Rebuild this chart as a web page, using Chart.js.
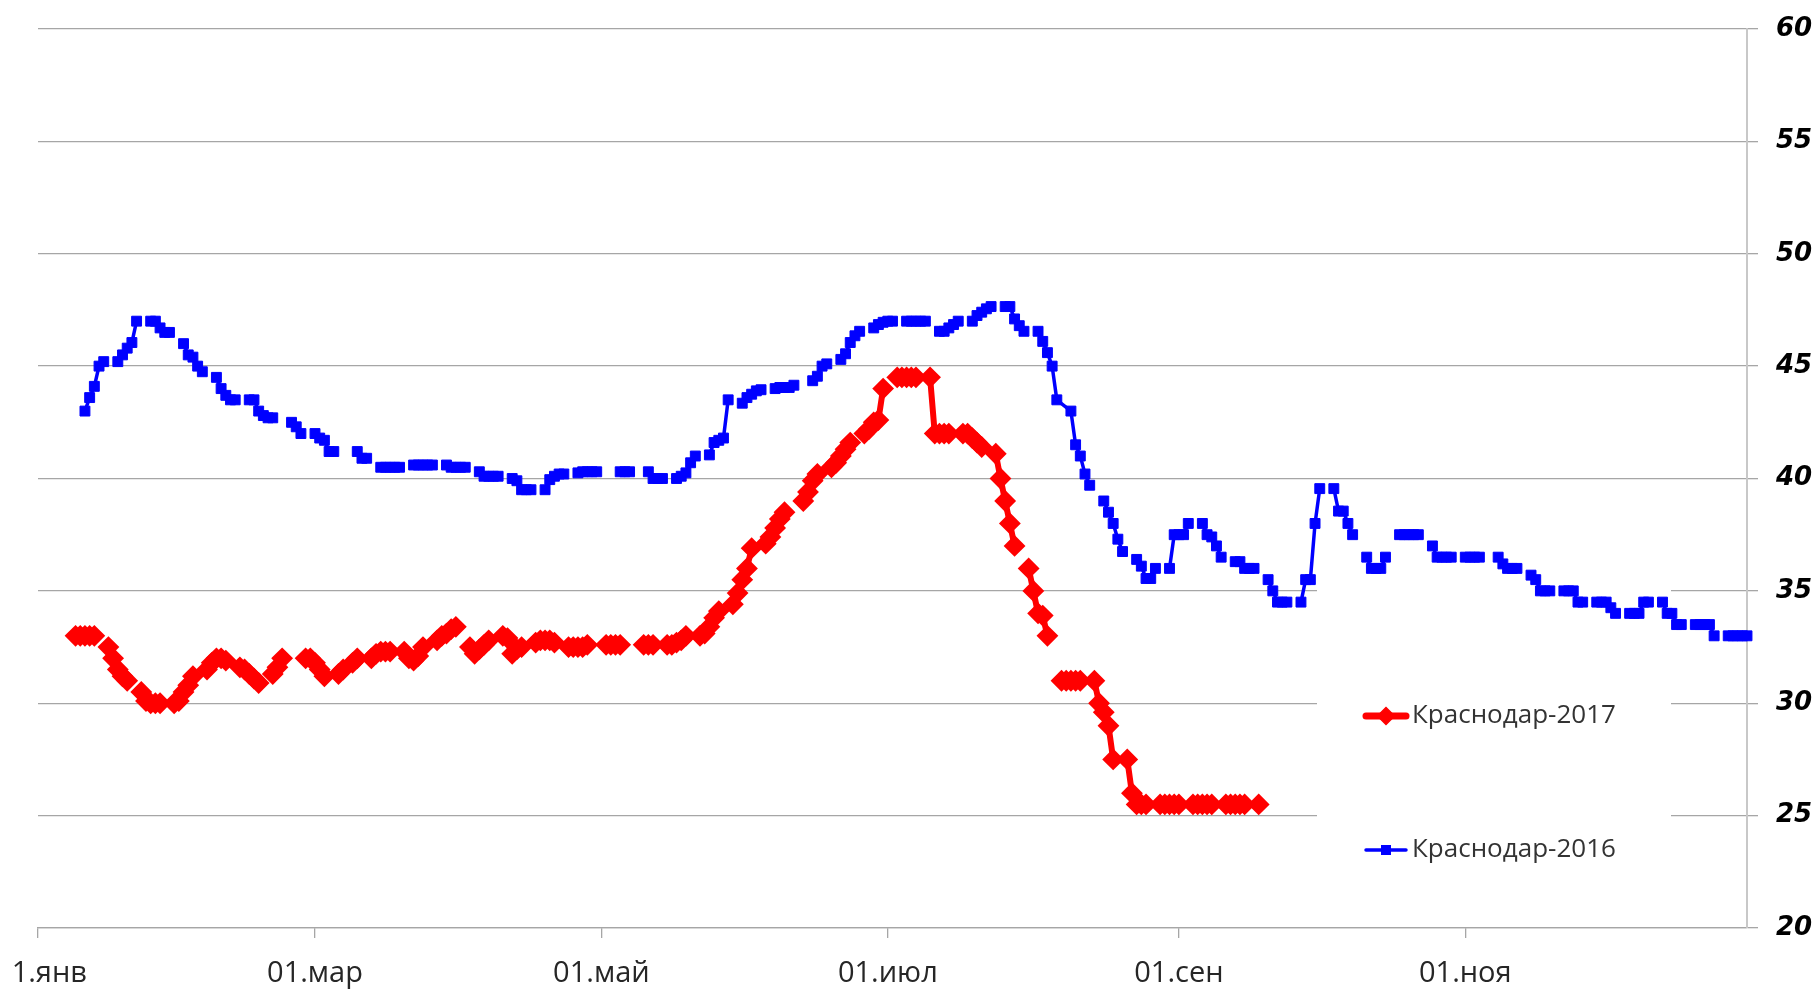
<!DOCTYPE html>
<html>
<head>
<meta charset="utf-8">
<script src="https://cdn.jsdelivr.net/npm/chart.js@4.4.1/dist/chart.umd.min.js"></script>
<style>
  html, body { margin: 0; padding: 0; background: #fff; }
  #wrap { width: 1819px; height: 990px; position: relative; }
</style>
</head>
<body>
<div id="wrap"><canvas id="chart"></canvas></div>
<script>
// x = day of year (0 = 1 янв), both years drawn on one calendar
const tickDays = [0, 59, 120, 181, 243, 304];
const tickLabels = ["1.янв", "01.мар", "01.май", "01.июл", "01.сен", "01.ноя"];

const name2017 = "Краснодар-2017";
const name2016 = "Краснодар-2016";

// 2017 prices, one row per week (Mon..Fri), first Monday = day 8
const weekStart2017 = 8;
const weeks2017 = [
  [33.0, 33.0, 33.0, 33.0, 33.0],
  [32.5, 32.0, 31.5, 31.2, 31.0],
  [30.5, 30.1, 30.0, 30.0, 30.0],
  [30.0, 30.1, 30.5, 30.8, 31.2],
  [31.5, 31.8, 32.0, 32.0, 31.9],
  [31.6, 31.5, 31.3, 31.1, 30.9],
  [31.3, 31.6, 32.0, null, null],
  [32.0, 32.0, 31.8, 31.5, 31.2],
  [31.3, 31.5, null, 31.8, 32.0],
  [32.0, 32.2, 32.3, 32.3, 32.3],
  [32.3, 32.0, 31.9, 32.1, 32.5],
  [32.8, 33.0, 33.1, 33.3, 33.4],
  [32.5, 32.2, 32.4, 32.6, 32.8],
  [33.0, 32.9, 32.2, 32.4, 32.5],
  [32.7, 32.8, 32.8, 32.8, 32.7],
  [32.5, 32.5, 32.5, 32.5, 32.6],
  [null, 32.6, 32.6, 32.6, 32.6],
  [null, null, 32.6, 32.6, 32.6],
  [32.6, 32.6, 32.7, 32.8, 33.0],
  [33.0, 33.1, 33.4, 33.8, 34.1],
  [34.4, 34.9, 35.5, 36.0, 36.9],
  [37.1, 37.4, 37.8, 38.2, 38.5],
  [null, 39.0, 39.4, 39.9, 40.2],
  [40.5, 40.7, 41.0, 41.3, 41.6],
  [42.0, 42.2, 42.5, 42.6, 44.0],
  [44.5, 44.5, 44.5, 44.5, 44.5],
  [44.5, 42.0, 42.0, 42.0, 42.0],
  [42.0, 42.0, 41.8, 41.6, 41.4],
  [41.1, 40.0, 39.0, 38.0, 37.0],
  [36.0, 35.0, 34.0, 33.9, 33.0],
  [31.0, 31.0, 31.0, 31.0, 31.0],
  [31.0, 30.0, 29.6, 29.0, 27.5],
  [27.5, 26.0, 25.5, 25.5, 25.5],
  [25.5, 25.5, 25.5, 25.5, 25.5],
  [25.5, 25.5, 25.5, 25.5, 25.5],
  [25.5, 25.5, 25.5, 25.5, 25.5],
  [25.5]
];
const joined2017 = [];

// 2016 prices moved onto the same calendar, first Monday = day 10
const weekStart2016 = 10;
const weeks2016 = [
  [43.0, 43.6, 44.1, 45.0, 45.2],
  [45.2, 45.5, 45.8, 46.05, 47.0],
  [47.0, 47.0, 46.7, 46.5, 46.5],
  [46.0, 45.5, 45.4, 45.0, 44.75],
  [44.5, 44.0, 43.7, 43.5, 43.5],
  [43.5, 43.5, 43.0, 42.8, 42.7, 42.7],
  [null, null, 42.5, 42.3, 42.0],
  [42.0, 41.8, 41.7, 41.2, 41.2],
  [null, null, 41.2, 40.9, 40.9],
  [40.5, 40.5, 40.5, 40.5, 40.5],
  [40.6, 40.6, 40.6, 40.6, 40.6],
  [40.6, 40.5, 40.5, 40.5, 40.5],
  [40.3, 40.1, 40.1, 40.1, 40.1],
  [40.0, 39.9, 39.5, 39.5, 39.5],
  [39.5, 39.95, 40.1, 40.2, 40.2],
  [40.25, 40.3, 40.3, 40.3, 40.3],
  [null, null, 40.3, 40.3, 40.3],
  [null, 40.3, 40.0, 40.0, 40.0],
  [40.0, 40.1, 40.25, 40.7, 41.0],
  [41.05, 41.6, 41.7, 41.8, 43.5],
  [43.35, 43.6, 43.75, 43.9, 43.95],
  [44.0, 44.05, 44.05, 44.05, 44.15],
  [null, 44.35, 44.55, 45.0, 45.1],
  [45.3, 45.55, 46.05, 46.35, 46.55],
  [46.7, 46.85, 46.95, 47.0, 47.0],
  [47.0, 47.0, 47.0, 47.0, 47.0],
  [46.55, 46.55, 46.7, 46.85, 47.0],
  [47.0, 47.25, 47.4, 47.55, 47.65],
  [47.65, 47.65, 47.1, 46.8, 46.55],
  [46.55, 46.1, 45.6, 45.0, 43.5],
  [43.0, 41.5, 41.0, 40.2, 39.7],
  [39.0, 38.5, 38.0, 37.3, 36.75],
  [36.4, 36.1, 35.55, 35.55, 36.0],
  [36.0, 37.5, 37.5, 37.5, 38.0],
  [38.0, 37.5, 37.4, 37.0, 36.5],
  [36.3, 36.3, 36.0, 36.0, 36.0],
  [35.5, 35.0, 34.5, 34.5, 34.5],
  [34.5, 35.5, 35.5, 38.0, 39.55],
  [39.55, 38.55, 38.55, 38.0, 37.5],
  [36.5, 36.0, 36.0, 36.0, 36.5],
  [37.5, 37.5, 37.5, 37.5, 37.5],
  [37.0, 36.5, 36.5, 36.5, 36.5],
  [36.5, 36.5, 36.5, 36.5, null],
  [36.5, 36.2, 36.0, 36.0, 36.0],
  [35.7, 35.5, 35.0, 35.0, 35.0],
  [35.0, 35.0, 35.0, 34.5, 34.5],
  [34.5, 34.5, 34.5, 34.25, 34.0],
  [34.0, 34.0, 34.0, 34.5, 34.5],
  [34.5, 34.0, 34.0, 33.5, 33.5],
  [33.5, 33.5, 33.5, 33.5, 33.0],
  [33.0, 33.0, 33.0, 33.0, 33.0]
];
const joined2016 = [29]; // this week's line runs on into the next one

const RED = "#ff0000";
const BLUE = "#0000ff";
const GRID = "#a6a6a6";

// turn week rows into {x, y} points, a null y breaks the line
function buildPoints(start, weeks, joined) {
  const pts = [];
  weeks.forEach((week, i) => {
    week.forEach((v, j) => {
      const x = start + i * 7 + j;
      if (v === null) {
        if (pts.length && pts[pts.length - 1].y !== null) pts.push({ x: x, y: null });
      } else {
        pts.push({ x: x, y: v });
      }
    });
    if (!joined.includes(i) && pts.length && pts[pts.length - 1].y !== null) {
      pts.push({ x: start + i * 7 + 6, y: null });
    }
  });
  return pts;
}

// white legend box over the grid, then the two entries
const legendPlugin = {
  id: "boxLegend",
  beforeDatasetsDraw(chart) {
    const ctx = chart.ctx;
    ctx.save();
    ctx.fillStyle = "#fff";
    ctx.fillRect(1317, 582, 354, 300);
    ctx.restore();
  },
  afterDraw(chart) {
    const ctx = chart.ctx;
    const items = [
      { text: name2017, color: RED, y: 716, style: "rectRot", r: 8.5, lw: 7 },
      { text: name2016, color: BLUE, y: 850, style: "rect", r: 6, lw: 3.5 }
    ];
    items.forEach(it => {
      ctx.save();
      ctx.strokeStyle = it.color;
      ctx.lineWidth = it.lw;
      ctx.lineCap = "round";
      ctx.beginPath();
      ctx.moveTo(1366, it.y);
      ctx.lineTo(1406, it.y);
      ctx.stroke();
      ctx.fillStyle = it.color;
      ctx.lineWidth = 1.5;
      Chart.helpers.drawPoint(ctx, { pointStyle: it.style, radius: it.r, rotation: 0, borderWidth: 1.5 }, 1386, it.y);
      ctx.fillStyle = "#333";
      ctx.font = "26px 'Open Sans'";
      ctx.textBaseline = "middle";
      ctx.textAlign = "left";
      ctx.fillText(it.text, 1412, it.y);
      ctx.restore();
    });
  }
};

const canvas = document.getElementById("chart");
const ctx = canvas.getContext("2d");

new Chart(ctx, {
  type: "line",
  data: {
    datasets: [
      {
        label: name2017,
        data: buildPoints(weekStart2017, weeks2017, joined2017),
        borderColor: RED,
        backgroundColor: RED,
        borderWidth: 6,
        pointStyle: "rectRot",
        pointRadius: 9.5,
        pointBackgroundColor: RED,
        pointBorderColor: RED,
        pointBorderWidth: 2,
        spanGaps: false,
        tension: 0,
        clip: 12
      },
      {
        label: name2016,
        data: buildPoints(weekStart2016, weeks2016, joined2016),
        borderColor: BLUE,
        backgroundColor: BLUE,
        borderWidth: 3.5,
        pointStyle: "rect",
        pointRadius: 7,
        pointBackgroundColor: BLUE,
        pointBorderColor: BLUE,
        pointBorderWidth: 1,
        spanGaps: false,
        tension: 0,
        clip: 12
      }
    ]
  },
  options: {
    responsive: true,
    maintainAspectRatio: false,
    animation: false,
    layout: { padding: { left: 38, top: 29, right: 0, bottom: 0 } },
    plugins: {
      legend: { display: false },
      tooltip: { enabled: false }
    },
    scales: {
      x: {
        type: "linear",
        min: 0,
        max: 364,
        afterBuildTicks: scale => {
          scale.ticks = tickDays.map(d => ({ value: d }));
        },
        afterFit: scale => {
          scale.height = 62;
          scale.paddingLeft = 0;
          scale.paddingRight = 0;
        },
        ticks: {
          autoSkip: false,
          maxRotation: 0,
          padding: 18,
          color: "#262626",
          font: { family: "'Open Sans'", size: 29 },
          // first label sits a little right of its tick, as in Excel
          callback: value => (value === 0 ? "   " : "") + tickLabels[tickDays.indexOf(value)]
        },
        grid: { drawOnChartArea: false, drawTicks: true, tickLength: 10, color: GRID, lineWidth: 1.3 },
        border: { display: true, color: GRID, width: 1.3 }
      },
      y: {
        position: "right",
        min: 20,
        max: 60,
        afterFit: scale => {
          scale.width = 72;
          scale.paddingTop = 0;
          scale.paddingBottom = 0;
        },
        ticks: {
          stepSize: 5,
          padding: 18,
          color: "#000",
          font: { family: "'DejaVu Sans'", size: 26, style: "italic", weight: "bold" }
        },
        grid: { color: GRID, lineWidth: 1.3, tickLength: 11 },
        border: { display: true, color: "#c8c8c8", width: 2 }
      }
    }
  },
  plugins: [legendPlugin]
});
</script>
</body>
</html>
